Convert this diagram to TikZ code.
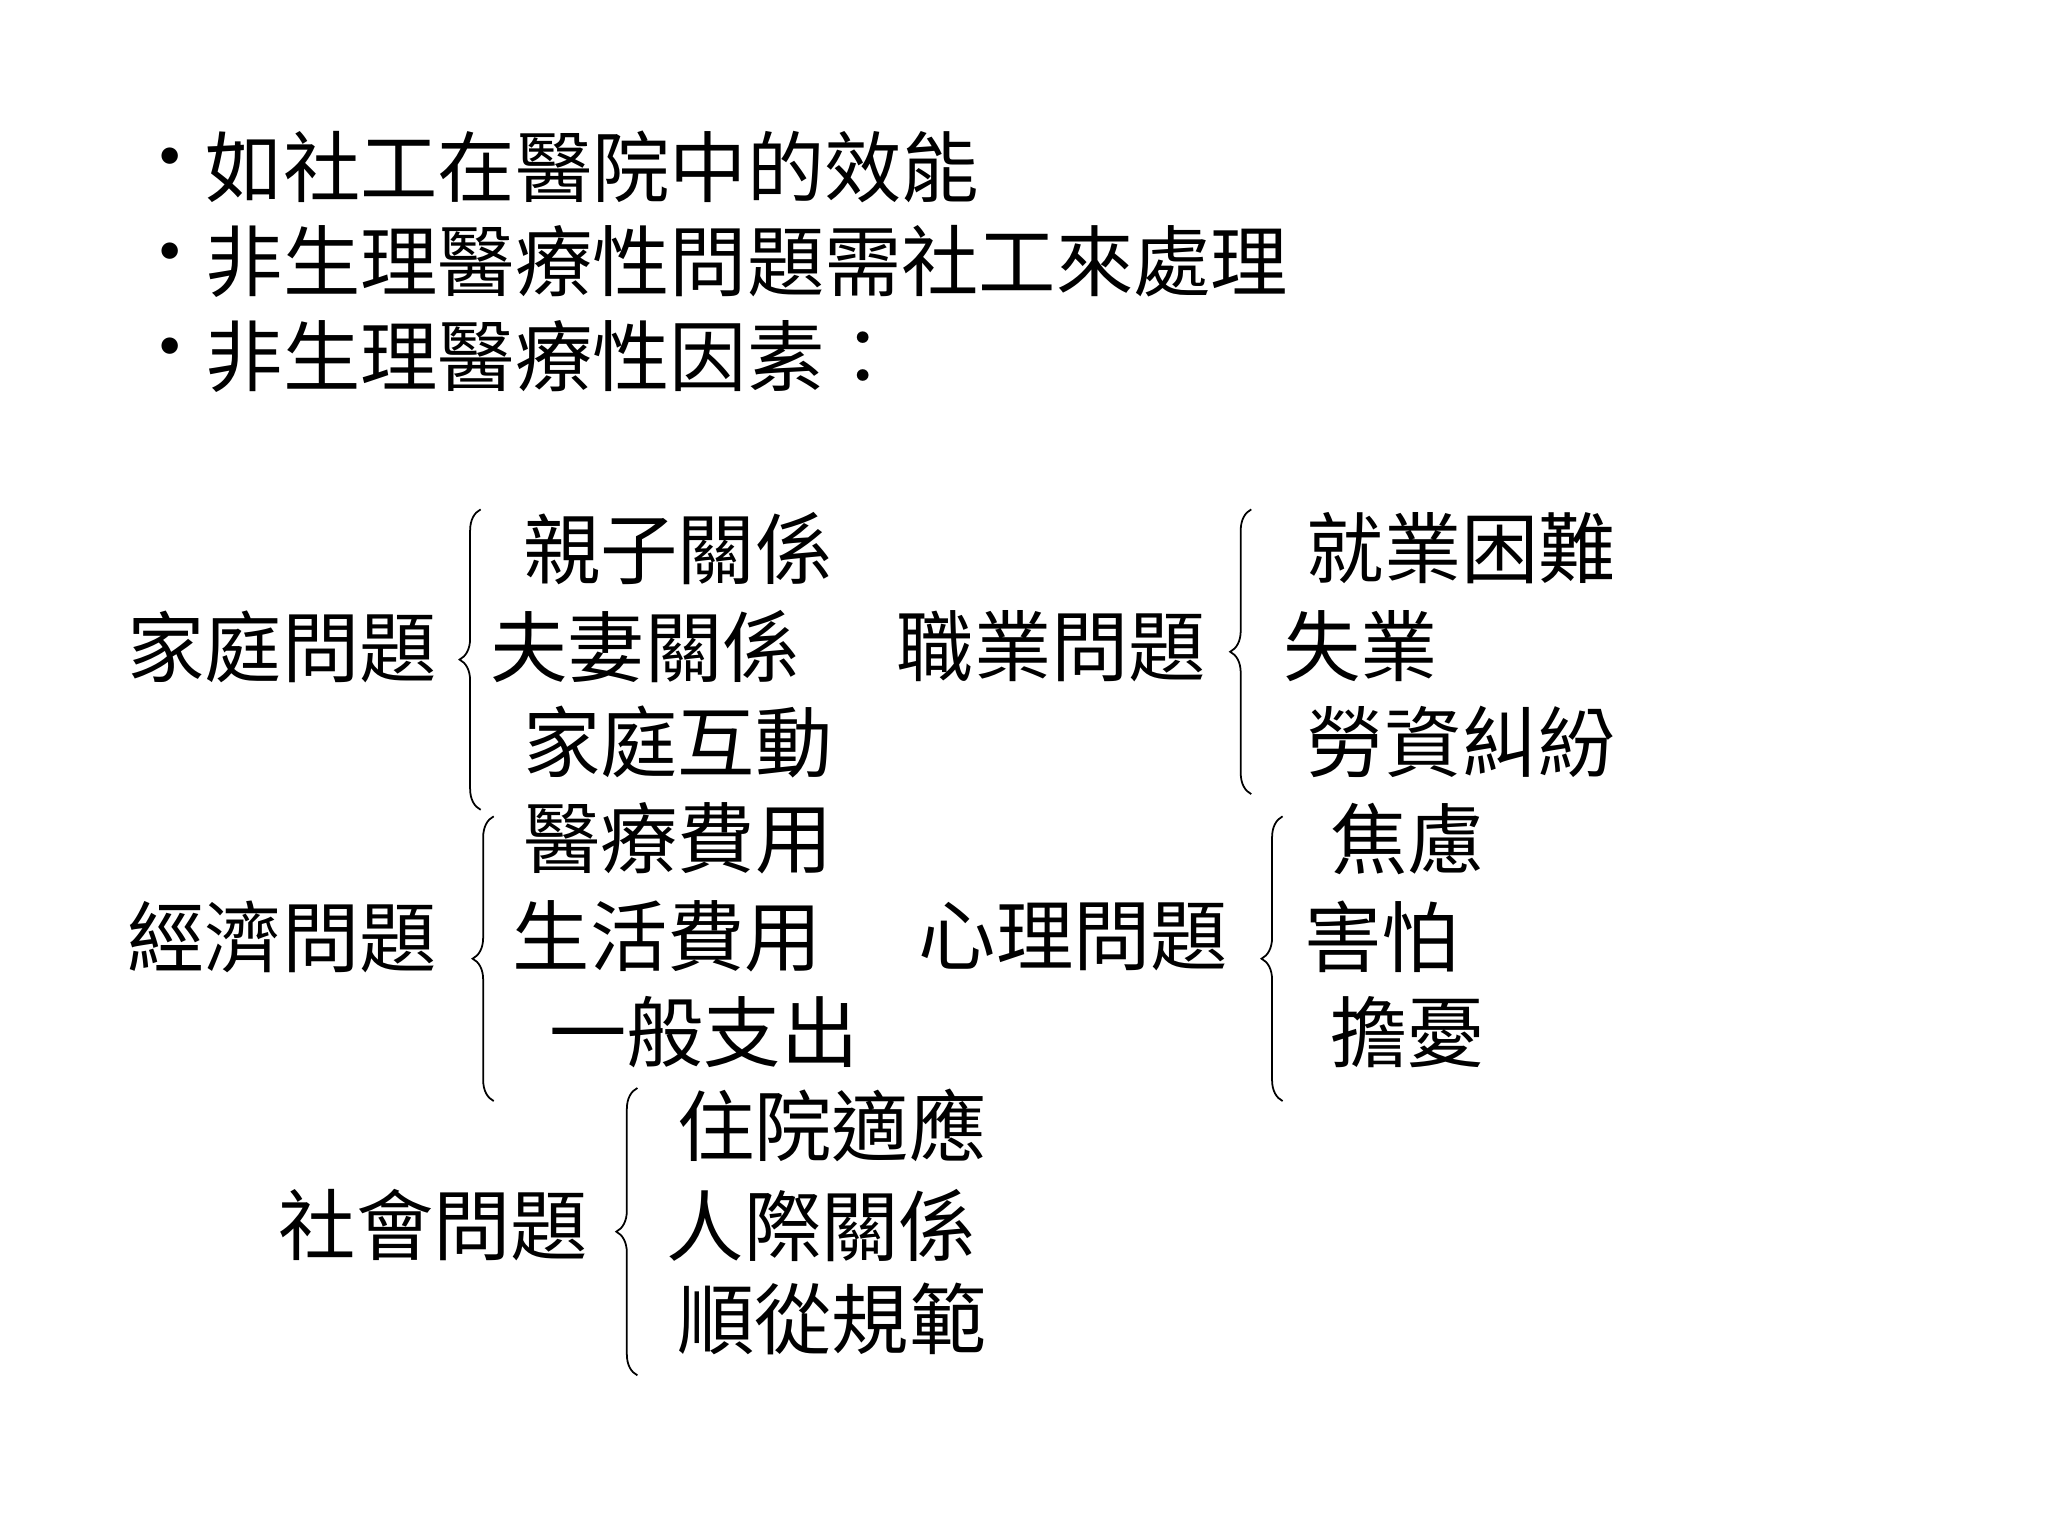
\documentclass[tikz,border=0pt]{standalone}
\usepackage{fontspec}
\setmainfont{Noto Sans CJK TC}
\usetikzlibrary{decorations.pathreplacing}
\begin{document}
\begin{tikzpicture}[x=0.01306cm,y=-0.01306cm,
  t/.style={anchor=west,inner sep=0pt,font=\fontsize{22}{26}\selectfont},
  br/.style={decorate,decoration={brace,amplitude=6pt,aspect=0.5},line width=0.5pt}]
\useasboundingbox (0,0) rectangle (1568,1176);
\fill[white] (0,0) rectangle (1568,1176);
\node[t] (b1) at (100,128) {•};
\node[t] (l1) at (157,128) {如社工在醫院中的效能};
\node[t] (b2) at (100,200) {•};
\node[t] (l2) at (157,200) {非生理醫療性問題需社工來處理};
\node[t] (b3) at (100,273) {•};
\node[t] (l3) at (157,273) {非生理醫療性因素：};
% family
\node[t] (f) at (97,495) {家庭問題};
\coordinate (fa) at (368,620); \coordinate (fb) at (368,390);
\draw[br] (fa) -- (fb);
\node[t] (f1) at (400,420) {親子關係};
\node[t] (f2) at (375,495) {夫妻關係};
\node[t] (f3) at (400,568) {家庭互動};
% job
\node[t] (j) at (686,495) {職業問題};
\coordinate (ja) at (958,608); \coordinate (jb) at (958,390);
\draw[br] (ja) -- (jb);
\node[t] (j1) at (1000,420) {就業困難};
\node[t] (j2) at (982,495) {失業};
\node[t] (j3) at (1000,568) {勞資糾紛};
% economy
\node[t] (e) at (97,717) {經濟問題};
\coordinate (ea) at (378,843); \coordinate (eb) at (378,625);
\draw[br] (ea) -- (eb);
\node[t] (e1) at (400,642) {醫療費用};
\node[t] (e2) at (392,717) {生活費用};
\node[t] (e3) at (420,790) {一般支出};
% psych
\node[t] (p) at (703,717) {心理問題};
\coordinate (pa) at (982,843); \coordinate (pb) at (982,625);
\draw[br] (pa) -- (pb);
\node[t] (p1) at (1018,642) {焦慮};
\node[t] (p2) at (998,717) {害怕};
\node[t] (p3) at (1018,790) {擔憂};
% social
\node[t] (s) at (213,938) {社會問題};
\coordinate (sa) at (488,1053); \coordinate (sb) at (488,833);
\draw[br] (sa) -- (sb);
\node[t] (s1) at (518,862) {住院適應};
\node[t] (s2) at (510,938) {人際關係};
\node[t] (s3) at (518,1010) {順從規範};
\end{tikzpicture}
\end{document}
